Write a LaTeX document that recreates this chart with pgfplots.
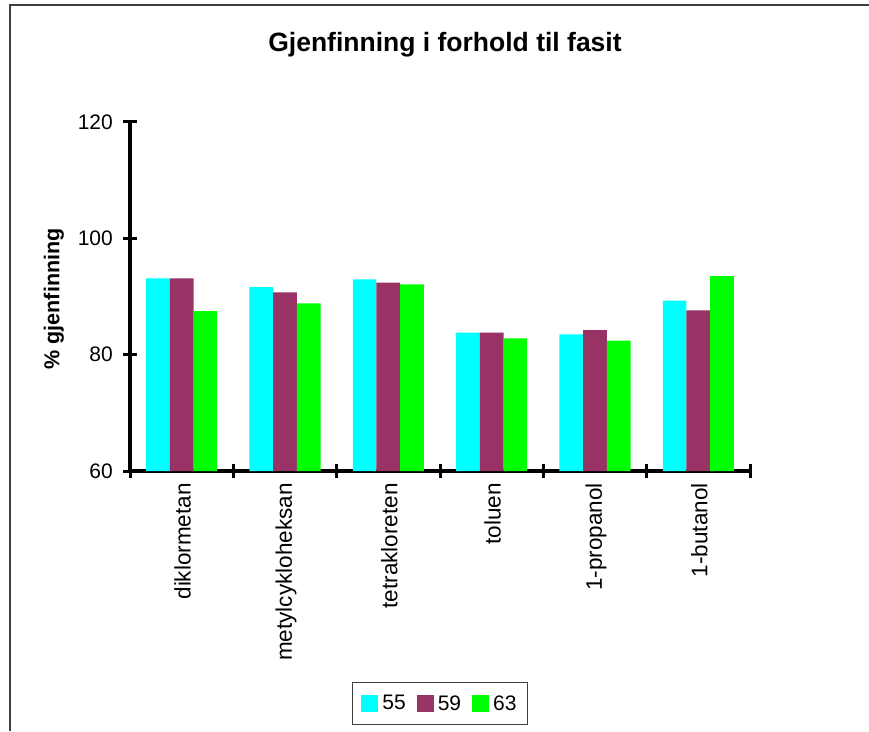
\documentclass[border=0pt]{standalone}
\usepackage{fontspec}
\setmainfont{Liberation Sans}
\usepackage{pgfplots}
\pgfplotsset{compat=1.18}
\definecolor{c55}{HTML}{00FFFF}
\definecolor{c59}{HTML}{993366}
\definecolor{c63}{HTML}{00FF00}
\definecolor{framec}{HTML}{404040}
\pgfplotsset{
  sqlegend/.style={legend image code/.code={\fill[##1] (0pt,-8.5pt) rectangle (17pt,8.5pt);}}
}
\begin{document}
\begin{tikzpicture}[x=1pt,y=1pt]
\useasboundingbox (0,0) rectangle (869,731);
\draw[framec, line width=2pt] (9.5,0) -- (9.5,725.5) -- (869,725.5);
\begin{axis}[
  at={(130pt,260pt)}, anchor=south west,
  scale only axis, width=620pt, height=349pt,
  xmin=-0.5, xmax=5.5, ymin=60, ymax=120,
  ybar=0pt, bar width=23.7pt,
  axis x line=bottom, axis y line=left,
  axis line style={-, line width=3.5pt, line cap=rect},
  every outer x axis line/.append style={-, line width=3.5pt, line cap=rect},
  every outer y axis line/.append style={-, line width=3.5pt, line cap=rect},
  /pgf/number format/assume math mode=true,
  ytick={60,80,100,120},
  xtick={-0.5,0.5,...,5.5},
  xticklabels={},
  extra x ticks={0,1,2,3,4,5},
  extra x tick labels={diklormetan,metylcykloheksan,tetrakloreten,toluen,1-propanol,1-butanol},
  extra x tick style={major tick length=0pt},
  major tick length=14pt,
  tick align=center,
  every tick/.style={black, line width=3pt},
  major tick style={black, line width=3pt},
  yticklabel style={font=\fontsize{21}{25}\selectfont, anchor=east, inner sep=0pt, xshift=-10pt},
  xticklabel style={font=\fontsize{22.5}{27}\selectfont, yshift=-12pt, xshift=1pt, rotate=90, anchor=east, inner sep=0pt},
  title={Gjenfinning i forhold til fasit},
  title style={font=\fontsize{26.5}{30}\selectfont\bfseries, at={(0.508,1.184)}, anchor=base},
  ylabel={\% gjenfinning},
  ylabel style={font=\fontsize{21.5}{25}\selectfont\bfseries, at={(-0.114,0.493)}, anchor=base, rotate=0},
  legend columns=3,
  legend style={at={(0.5,-0.666)}, anchor=center, draw=framec, line width=1pt,
    font=\fontsize{21}{25}\selectfont, inner xsep=9pt, inner ysep=11pt,
    /tikz/every odd column/.append style={column sep=2pt},
    /tikz/every even column/.append style={column sep=9pt}},
]
\addplot[fill=c55, draw=none, sqlegend] coordinates {(0,93.1) (1,91.6) (2,92.95) (3,83.8) (4,83.5) (5,89.3)};
\addplot[fill=c59, draw=none, sqlegend] coordinates {(0,93.1) (1,90.7) (2,92.4) (3,83.8) (4,84.2) (5,87.6)};
\addplot[fill=c63, draw=none, sqlegend] coordinates {(0,87.5) (1,88.8) (2,92.1) (3,82.8) (4,82.4) (5,93.5)};
\legend{55,59,63}
\end{axis}
\end{tikzpicture}
\end{document}
